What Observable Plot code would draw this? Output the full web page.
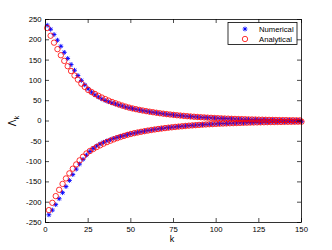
<!DOCTYPE html>
<html><head><meta charset="utf-8">
<script src="https://cdn.jsdelivr.net/npm/d3@7"></script>
<script src="https://cdn.jsdelivr.net/npm/@observablehq/plot@0.6"></script>
<style>
html,body{margin:0;padding:0;background:#fff;}
#chart{width:332px;height:250px;overflow:hidden;}
</style></head><body><div id="chart"></div>
<script>
// index k = 1..150
const kIndex = d3.range(1, 151);

const numerical = [
 236,-231,226,-219.5,213,-206,199,-191.5,184,-176.5,
 169,-161.5,154,-146.5,139,-132,125,-118.5,112,-106,
 100,-94.5,89,-84,79,-75,71,-67.5,64.5,-61.5,
 59,-56.5,54.5,-52.5,50.5,-49,47.5,-46,44.5,-43,
 42,-40.5,39.5,-38,37,-36,34.5,-33.5,32.5,-31.5,
 30.6,-29.7,28.8,-28.0,27.1,-26.3,25.5,-24.8,24.0,-23.3,
 22.6,-22.0,21.3,-20.7,20.1,-19.5,18.9,-18.4,17.8,-17.3,
 16.8,-16.3,15.8,-15.4,14.9,-14.5,14.0,-13.6,13.2,-12.8,
 12.5,-12.1,11.7,-11.4,11.0,-10.7,10.4,-10.1,9.8,-9.5,
 9.2,-8.9,8.7,-8.4,8.2,-7.9,7.7,-7.5,7.2,-7.0,
 6.8,-6.6,6.4,-6.2,6.1,-5.9,5.7,-5.5,5.4,-5.2,
 5.1,-4.9,4.8,-4.6,4.5,-4.4,4.2,-4.1,4.0,-3.9,
 3.8,-3.7,3.6,-3.5,3.4,-3.3,3.2,-3.1,3.0,-2.9,
 2.8,-2.7,2.6,-2.6,2.5,-2.4,2.3,-2.3,2.2,-2.1,
 2.1,-2.0,1.9,-1.9,1.8,-1.8,1.7,-1.7,1.6,-1.6
];

const analytical = [
 229,-219.5,210,-201.5,193,-185,177,-169.5,162,-155,
 148,-141.5,135,-129,123,-117.5,112,-107,102,-97,
 92,-88,84,-80,76.5,-73.9,71.3,-68.9,66.5,-64.2,
 62.0,-59.9,57.8,-55.8,53.9,-52.0,50.2,-48.5,46.8,-45.2,
 43.7,-42.2,40.7,-39.3,38.0,-36.7,35.4,-34.2,33.0,-31.9,
 30.9,-30.0,29.1,-28.3,27.4,-26.6,25.8,-25.1,24.3,-23.6,
 22.9,-22.2,21.6,-20.9,20.3,-19.7,19.1,-18.6,18.0,-17.5,
 17.0,-16.5,16.0,-15.5,15.1,-14.6,14.2,-13.8,13.4,-13.0,
 12.6,-12.2,11.9,-11.5,11.2,-10.8,10.5,-10.2,9.9,-9.6,
 9.3,-9.1,8.8,-8.5,8.3,-8.0,7.8,-7.6,7.3,-7.1,
 6.9,-6.7,6.5,-6.3,6.1,-6.0,5.8,-5.6,5.4,-5.3,
 5.1,-5.0,4.8,-4.7,4.6,-4.4,4.3,-4.2,4.0,-3.9,
 3.8,-3.7,3.6,-3.5,3.4,-3.3,3.2,-3.1,3.0,-2.9,
 2.8,-2.7,2.6,-2.6,2.5,-2.4,2.3,-2.3,2.2,-2.1,
 2.1,-2.0,1.9,-1.9,1.8,-1.8,1.7,-1.7,1.6,-1.6
];

const xTicks = [0, 25, 50, 75, 100, 125, 150];
const yTicks = [-250, -200, -150, -100, -50, 0, 50, 100, 150, 200, 250];
const seriesNames = ["Numerical", "Analytical"];
const xLabel = "k";
const yLabelMain = "Λ";
const yLabelSub = "k";

const rows = kIndex.map((k, i) => ({k, num: numerical[i], ana: analytical[i]}));

// MATLAB-like 8-arm asterisk
const asterisk = {
  draw(ctx, size) {
    const r = Math.sqrt(size / Math.PI);
    const d = r * Math.SQRT1_2;
    ctx.moveTo(-r, 0); ctx.lineTo(r, 0);
    ctx.moveTo(0, -r); ctx.lineTo(0, r);
    ctx.moveTo(-d, -d); ctx.lineTo(d, d);
    ctx.moveTo(-d, d); ctx.lineTo(d, -d);
  }
};

const W = 332, H = 250, mL = 45, mR = 31, mT = 19, mB = 28;
const pw = W - mL - mR, ph = H - mT - mB;
const FONT = "'Liberation Sans', Arial, Helvetica, sans-serif";
const BLUE = "#0000ff", RED = "#ff0000";

const chart = Plot.plot({
  width: W, height: H,
  marginLeft: mL, marginRight: mR, marginTop: mT, marginBottom: mB,
  style: {fontFamily: FONT, fontSize: "7.7px", background: "#fff", color: "#000", overflow: "visible"},
  x: {domain: [0, 150]},
  y: {domain: [-250, 250]},
  marks: [
    Plot.dot(rows, {x: "k", y: "num", symbol: asterisk, r: 2.4, stroke: BLUE, strokeWidth: 0.9, fill: "none"}),
    Plot.dot(rows, {x: "k", y: "ana", symbol: "circle", r: 2.7, stroke: RED, strokeWidth: 0.8, fill: "none"}),
    Plot.frame({stroke: "#000", strokeWidth: 0.8}),
    Plot.tickX(xTicks, {x: d => d, insetTop: ph - 4, stroke: "#000", strokeWidth: 0.7}),
    Plot.tickX(xTicks, {x: d => d, insetBottom: ph - 4, stroke: "#000", strokeWidth: 0.7}),
    Plot.tickY(yTicks, {y: d => d, insetRight: pw - 4, stroke: "#000", strokeWidth: 0.7}),
    Plot.tickY(yTicks, {y: d => d, insetLeft: pw - 4, stroke: "#000", strokeWidth: 0.7}),
    Plot.axisX(xTicks, {anchor: "bottom", tickSize: 0, tickPadding: 4, label: null, tickFormat: d => String(d), fill: "#000"}),
    Plot.axisY(yTicks, {anchor: "left", tickSize: 0, tickPadding: 4, label: null, tickFormat: d => String(d), fill: "#000"})
  ]
});

document.getElementById("chart").appendChild(chart);

const svg = d3.select(chart);

// x label
svg.append("text")
  .attr("x", 172).attr("y", 242)
  .attr("text-anchor", "middle")
  .attr("font-family", FONT).attr("font-size", 9)
  .style("fill", "#000")
  .text(xLabel);

// y label (rotated)
const yl = svg.append("text")
  .attr("transform", "translate(16,121) rotate(-90)")
  .attr("text-anchor", "middle")
  .attr("font-family", FONT).attr("font-size", 10)
  .style("fill", "#000");
yl.append("tspan").text(yLabelMain);
yl.append("tspan").attr("font-size", 7.5).attr("dy", 2.5).text(yLabelSub);

// legend
const lg = svg.append("g");
lg.append("rect").attr("x", 228).attr("y", 22.5).attr("width", 69).attr("height", 22)
  .attr("fill", "#fff").attr("stroke", "#000").attr("stroke-width", 0.8);
const ar = 2.4, ad = ar * Math.SQRT1_2;
lg.append("path")
  .attr("transform", "translate(245,29)")
  .attr("d", `M${-ar},0L${ar},0M0,${-ar}L0,${ar}M${-ad},${-ad}L${ad},${ad}M${-ad},${ad}L${ad},${-ad}`)
  .attr("stroke", BLUE).attr("stroke-width", 0.9).attr("fill", "none");
lg.append("circle").attr("cx", 245).attr("cy", 39).attr("r", 2.7)
  .attr("stroke", RED).attr("stroke-width", 0.8).attr("fill", "none");
seriesNames.forEach((s, i) => {
  lg.append("text").attr("x", 259).attr("y", 31.8 + i * 10)
    .attr("text-anchor", "start")
    .attr("font-family", FONT).attr("font-size", 7.7)
    .style("fill", "#000")
    .text(s);
});
</script>
</body></html>
